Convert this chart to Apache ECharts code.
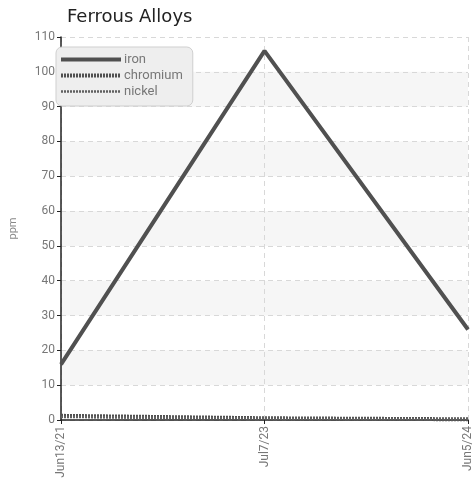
<!DOCTYPE html>
<html><head><meta charset="utf-8">
<script src="https://cdn.jsdelivr.net/npm/echarts@6/dist/echarts.min.js"></script>
<style>html,body{margin:0;padding:0;background:#fff}#c{width:474px;height:482px}</style>
</head><body><div id="c"></div>
<script>
const categories = ['Jun13/21', 'Jul7/23', 'Jun5/24'];
const iron = [16, 106, 26];
const chromium = [1.2, 0.5, 0.2];
const nickel = [0.9, 0.4, 0.2];
const yTicks = {min: 0, max: 110, interval: 10};

const font = 'Roboto, sans-serif';
const chart = echarts.init(document.getElementById('c'));
chart.setOption({
  animation: false,
  title: {text: 'Ferrous Alloys', left: 62, top: 3,
    textStyle: {fontFamily: 'DejaVu Sans, sans-serif', fontSize: 18, fontWeight: 'normal', color: '#222'}},
  legend: {
    left: 56, top: 47, orient: 'vertical', itemGap: 3, itemWidth: 60, itemHeight: 14,
    padding: [6, 10, 8, 3], backgroundColor: '#eeeeee', borderColor: '#cfcfcf', borderWidth: 1, borderRadius: 6,
    textStyle: {fontFamily: font, fontSize: 13, color: '#777', padding: [0,0,0,-2]},
    itemStyle: {opacity: 0},
    data: [
      {name: 'iron', lineStyle: {width: 4, type: 'solid', color: '#505050'}},
      {name: 'chromium', lineStyle: {width: 4, type: [2, 1], color: '#505050'}},
      {name: 'nickel', lineStyle: {width: 2.5, type: [2, 1], color: '#606060'}}
    ]
  },
  grid: {left: 59, right: 5, top: 37, bottom: 62, containLabel: false},
  xAxis: {
    type: 'category', data: categories, boundaryGap: false,
    axisLine: {lineStyle: {color: '#222', width: 1.5}},
    axisTick: {show: true, alignWithLabel: true, length: 4, lineStyle: {color: '#222'}},
    axisLabel: {rotate: 90, color: '#777', fontFamily: font, fontSize: 12, margin: 6},
    splitLine: {show: true, lineStyle: {type: [5, 4], color: '#d8d8d8'}}
  },
  yAxis: {
    type: 'value', min: yTicks.min, max: yTicks.max, interval: yTicks.interval,
    name: 'ppm', nameLocation: 'middle', nameGap: 42, nameRotate: 90,
    nameTextStyle: {color: '#888', fontFamily: font, fontSize: 11},
    axisLine: {show: true, lineStyle: {color: '#222', width: 1.5}},
    axisTick: {show: true, length: 4, lineStyle: {color: '#222'}},
    axisLabel: {color: '#777', fontFamily: font, fontSize: 12, margin: 6},
    splitLine: {show: true, lineStyle: {type: [5, 4], color: '#d8d8d8'}},
    splitArea: {show: true, areaStyle: {color: ['rgba(255,255,255,0)', '#f6f6f6']}}
  },
  series: [
    {name: 'iron', type: 'line', data: iron, symbol: 'none', z: 3,
      lineStyle: {color: '#505050', width: 4}, itemStyle: {color: '#505050'}},
    {name: 'chromium', type: 'line', data: chromium, symbol: 'none', z: 2,
      lineStyle: {color: '#505050', width: 4, type: [2, 1]}, itemStyle: {color: '#505050'}},
    {name: 'nickel', type: 'line', data: nickel, symbol: 'none', z: 2,
      lineStyle: {color: '#606060', width: 2.5, type: [2, 1]}, itemStyle: {color: '#606060'}}
  ]
});
</script></body></html>
